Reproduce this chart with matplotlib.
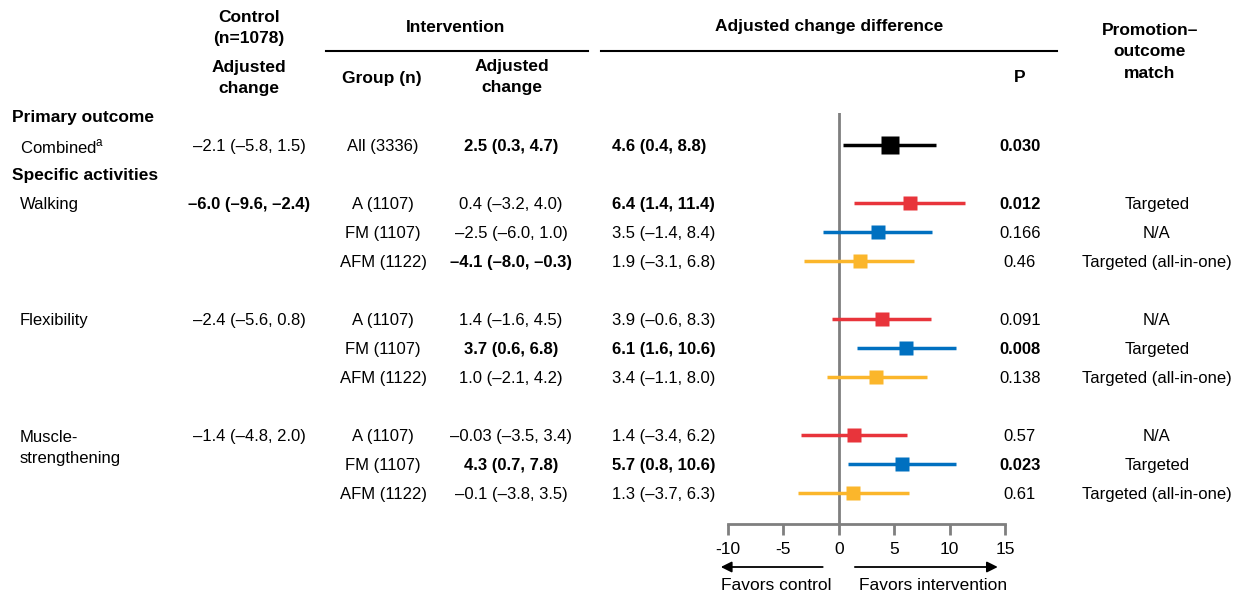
import matplotlib
matplotlib.use("Agg")
import matplotlib.pyplot as plt
import matplotlib.transforms as mtransforms
from matplotlib.lines import Line2D

plt.rcParams["font.family"] = ["Liberation Sans", "DejaVu Sans"]
plt.rcParams["mathtext.fontset"] = "custom"
plt.rcParams["mathtext.rm"] = "Liberation Sans"

# ---- data ----
row_labels = ["Combined$^{\\mathrm{a}}$", "Walking", "", "", "Flexibility", "", "",
              "Muscle-\nstrengthening", "", ""]
rows = [0, 2, 3, 4, 6, 7, 8, 10, 11, 12]
control_change = ["–2.1 (–5.8, 1.5)", "–6.0 (–9.6, –2.4)", "", "",
                  "–2.4 (–5.6, 0.8)", "", "", "–1.4 (–4.8, 2.0)", "", ""]
control_bold = [False, True, False, False, False, False, False, False, False, False]
groups = ["All (3336)", "A (1107)", "FM (1107)", "AFM (1122)", "A (1107)", "FM (1107)",
          "AFM (1122)", "A (1107)", "FM (1107)", "AFM (1122)"]
interv_change = ["2.5 (0.3, 4.7)", "0.4 (–3.2, 4.0)", "–2.5 (–6.0, 1.0)", "–4.1 (–8.0, –0.3)",
                 "1.4 (–1.6, 4.5)", "3.7 (0.6, 6.8)", "1.0 (–2.1, 4.2)",
                 "–0.03 (–3.5, 3.4)", "4.3 (0.7, 7.8)", "–0.1 (–3.8, 3.5)"]
interv_bold = [True, False, False, True, False, True, False, False, True, False]
diff_est = [4.6, 6.4, 3.5, 1.9, 3.9, 6.1, 3.4, 1.4, 5.7, 1.3]
diff_lo = [0.4, 1.4, -1.4, -3.1, -0.6, 1.6, -1.1, -3.4, 0.8, -3.7]
diff_hi = [8.8, 11.4, 8.4, 6.8, 8.3, 10.6, 8.0, 6.2, 10.6, 6.3]
diff_text = ["4.6 (0.4, 8.8)", "6.4 (1.4, 11.4)", "3.5 (–1.4, 8.4)", "1.9 (–3.1, 6.8)",
             "3.9 (–0.6, 8.3)", "6.1 (1.6, 10.6)", "3.4 (–1.1, 8.0)",
             "1.4 (–3.4, 6.2)", "5.7 (0.8, 10.6)", "1.3 (–3.7, 6.3)"]
p_values = ["0.030", "0.012", "0.166", "0.46", "0.091", "0.008", "0.138", "0.57", "0.023", "0.61"]
sig = [True, True, False, False, False, True, False, False, True, False]
match = ["", "Targeted", "N/A", "Targeted (all-in-one)", "N/A", "Targeted",
         "Targeted (all-in-one)", "N/A", "Targeted", "Targeted (all-in-one)"]
group_colors = ["black", "#E8343B", "#0070C0", "#FBB62B", "#E8343B", "#0070C0", "#FBB62B",
                "#E8343B", "#0070C0", "#FBB62B"]

W, H = 1233, 596
fig = plt.figure(figsize=(W / 100, H / 100), dpi=100)

def fx(px):
    return px / W

def fy(py):
    return 1 - py / H

# forest axes: x -10..15 spans px 728..1005, rows 29 px apart, row 0 at px 145
ax_top, ax_bot = 113, 524
ax = fig.add_axes([fx(728), fy(ax_bot), fx(1005) - fx(728), (ax_bot - ax_top) / H])
ax.set_xlim(-10, 15)
ax.set_ylim((ax_bot - 145) / 29, (ax_top - 145) / 29)

for i, r in enumerate(rows):
    big = i == 0
    ax.plot([diff_lo[i], diff_hi[i]], [r, r], color=group_colors[i], lw=2.5, solid_capstyle="butt")
    ax.plot(diff_est[i], r, marker="s", color=group_colors[i], ms=13.5 if big else 10.5, mec="none")

ax.axvline(0, color="#7f7f7f", lw=2, zorder=0)
for s in ["top", "right", "left"]:
    ax.spines[s].set_visible(False)
ax.spines["bottom"].set_color("#7f7f7f")
ax.spines["bottom"].set_linewidth(2)
ax.set_yticks([])
ax.set_xticks([-10, -5, 0, 5, 10, 15])
ax.set_xticklabels(["-10", "-5", "0", "5", "10", "15"])
ax.tick_params(axis="x", direction="out", length=8, width=2, color="#7f7f7f",
               labelsize=12.5, pad=5)

# arrows under the axis
arr_tr = mtransforms.blended_transform_factory(ax.transData, fig.transFigure)
ax.annotate("", xy=(-10.9, fy(567)), xytext=(-1.2, fy(567)), xycoords=arr_tr, textcoords=arr_tr,
            arrowprops=dict(arrowstyle="-|>", color="black", lw=1.3, mutation_scale=16))
ax.annotate("", xy=(14.6, fy(567)), xytext=(1.2, fy(567)), xycoords=arr_tr, textcoords=arr_tr,
            arrowprops=dict(arrowstyle="-|>", color="black", lw=1.3, mutation_scale=16))
fig.text(fx(776), fy(585), "Favors control", ha="center", va="center", fontsize=12.5)
fig.text(fx(933), fy(585), "Favors intervention", ha="center", va="center", fontsize=12.5)

# header
fs = 12
hdr = dict(ha="center", va="center", fontsize=12.5, fontweight="bold", linespacing=1.55)
fig.text(fx(249), fy(28), "Control\n(n=1078)", **hdr)
fig.text(fx(249), fy(78), "Adjusted\nchange", **hdr)
fig.text(fx(456), fy(27), "Intervention", **hdr)
fig.text(fx(382), fy(78), "Group (n)", **hdr)
fig.text(fx(512), fy(77), "Adjusted\nchange", **hdr)
fig.text(fx(829), fy(27), "Adjusted change difference", **hdr)
fig.text(fx(1020), fy(78), "P", **hdr)
fig.text(fx(1150), fy(52), "Promotion–\noutcome\nmatch", **hdr)
fig.add_artist(Line2D([fx(326), fx(588)], [fy(51), fy(51)], color="black", lw=1.5))
fig.add_artist(Line2D([fx(601), fx(1057)], [fy(51), fy(51)], color="black", lw=1.5))

# table rows
row_tr = mtransforms.blended_transform_factory(fig.transFigure, ax.transData)
fig.text(fx(12), -1, "Primary outcome", transform=row_tr, va="center_baseline",
         fontsize=12.5, fontweight="bold")
fig.text(fx(12), 1, "Specific activities", transform=row_tr, va="center_baseline",
         fontsize=12.5, fontweight="bold")

cell = dict(transform=row_tr, va="center_baseline", fontsize=fs)
for i, r in enumerate(rows):
    if row_labels[i]:
        if "\n" in row_labels[i]:
            # two-line label, first line level with the row
            fig.text(fx(20), r + 0.45, row_labels[i], transform=row_tr, va="center",
                     fontsize=fs, linespacing=1.5)
        else:
            fig.text(fx(20), r, row_labels[i], **cell)
    fig.text(fx(249), r, control_change[i], ha="center",
             fontweight="bold" if control_bold[i] else "normal", **cell)
    fig.text(fx(383), r, groups[i], ha="center", **cell)
    fig.text(fx(511), r, interv_change[i], ha="center",
             fontweight="bold" if interv_bold[i] else "normal", **cell)
    fig.text(fx(612), r, diff_text[i], ha="left",
             fontweight="bold" if sig[i] else "normal", **cell)
    fig.text(fx(1020), r, p_values[i], ha="center",
             fontweight="bold" if sig[i] else "normal", **cell)
    fig.text(fx(1157), r, match[i], ha="center", **cell)

fig.savefig("out.png", dpi=100)
